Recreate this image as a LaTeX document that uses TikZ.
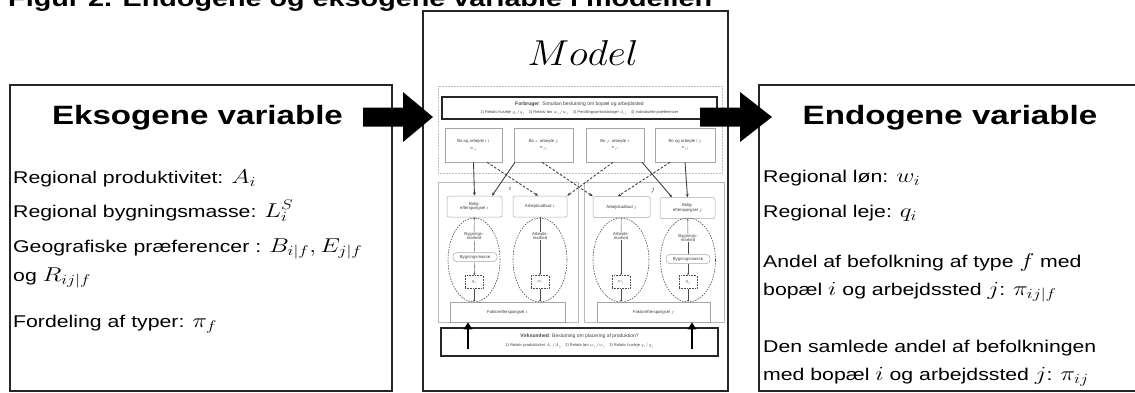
\documentclass[tikz,border=0pt]{standalone}
\usepackage{fix-cm}
\usepackage[no-math]{fontspec}
\setmainfont{Liberation Sans}
\usetikzlibrary{shapes.geometric,arrows.meta}
\newcommand\sx[1]{\scalebox{1.25}[1]{#1}}
\newcommand\fsz[1]{\fontsize{#1}{#1}\selectfont}
\newcommand\mth[1]{{\fsz{20}$#1$}}
\begin{document}
\begin{tikzpicture}[x=1pt,y=-1pt,
  frame/.style={draw=black!85,line width=1.8pt},
  headtext/.style={anchor=base,font=\bfseries\fsz{26.5},inner sep=0pt},
  bodytext/.style={anchor=base west,font=\fsz{17},inner sep=0pt},
  tinytext/.style={font=\fsz{4.3},text=black!75,align=center,inner sep=0.5pt},
  sqbox/.style={tinytext,draw=gray!70,line width=0.5pt,minimum height=34pt},
  rbox/.style={tinytext,draw=gray!70,line width=0.5pt,rounded corners=2pt,minimum height=21pt},
  hexbox/.style={tinytext,draw=gray!70,line width=0.5pt,rounded corners=3.5pt,minimum height=9pt,minimum width=44pt},
  dotbox/.style={tinytext,draw=black!70,densely dotted,line width=0.6pt,minimum width=18pt,minimum height=13pt},
  ell/.style={ellipse,draw=black!70,dashed,dash pattern=on 1.5pt off 1.2pt,line width=0.6pt,minimum width=52pt,minimum height=84pt,inner sep=0pt},
  panel/.style={draw=gray!55,line width=0.5pt},
  thick box/.style={draw=black!85,line width=1.1pt},
  sol/.style={draw=black!75,line width=0.9pt,-{Stealth[length=3.5pt,width=3pt]}},
  dsh/.style={draw=black!75,line width=0.9pt,dashed,dash pattern=on 2.5pt off 1.8pt,-{Stealth[length=3.5pt,width=3pt]}},
  thinln/.style={draw=gray!60!black,line width=0.4pt},
  thinarr/.style={thinln,-{Stealth[length=2pt,width=1.8pt]}},
  uparr/.style={draw=black,line width=2.2pt,-{Triangle[length=7pt,width=8pt]}},
  blockarrow/.style={fill=black}
]
\useasboundingbox (0,0) rectangle (1135,392);

% title (cut at top)
\node[anchor=base west,font=\bfseries\fsz{23},inner sep=0pt] (title) at (8,6)
  {\sx{Figur 2. Endogene og eksogene variable i modellen}};

% three frames
\draw[frame] (10,85) rectangle (392,391);
\draw[frame] (423,11) rectangle (728,391);
\draw[frame] (759,85) rectangle (1140,391);

% left box text
\node[headtext] (exo) at (197.5,124) {\sx{Eksogene variable}};
\node[bodytext] (l1) at (13,183) {\sx{Regional produktivitet: \mth{A_i}}};
\node[bodytext] (l2) at (13,217) {\sx{Regional bygningsmasse: \mth{L_i^S}}};
\node[bodytext] (l3) at (13,252) {\sx{Geografiske præferencer : \mth{B_{i|f}, E_{j|f}}}};
\node[bodytext] (l4) at (13,281) {\sx{og \mth{R_{ij|f}}}};
\node[bodytext] (l5) at (13,327) {\sx{Fordeling af typer: \mth{\pi_f}}};

% right box text
\node[headtext] (endo) at (950,124) {\sx{Endogene variable}};
\node[bodytext] (r1) at (763,182) {\sx{Regional løn: \mth{w_i}}};
\node[bodytext] (r2) at (763,217) {\sx{Regional leje: \mth{q_i}}};
\node[bodytext] (r3) at (763,267) {\sx{Andel af befolkning af type \mth{f} med}};
\node[bodytext] (r4) at (763,295) {\sx{bopæl \mth{i} og arbejdssted \mth{j}: \mth{\pi_{ij|f}}}};
\node[bodytext] (r5) at (763,352) {\sx{Den samlede andel af befolkningen}};
\node[bodytext] (r6) at (763,380) {\sx{med bopæl \mth{i} og arbejdssted \mth{j}: \mth{\pi_{ij}}}};

% Model title
\node[anchor=base,inner sep=0pt,font=\fsz{36}] (model) at (583,65) {\scalebox{1.1}[1]{$Model$}};

% ---------- inner model diagram ----------
\draw[draw=gray!50,line width=0.5pt,densely dotted] (438,86) rectangle (722,173);
\draw[thick box] (442,97) rectangle (717,119);
\node[tinytext,font=\fsz{5}] (forb1) at (579.5,104.5) {\textbf{Forbruger}: Simultan beslutning om bopæl og arbejdssted};
\node[tinytext,font=\fsz{4}] (forb2) at (579.5,113) {1) Relativ husleje $q_i/q_j$\quad 2) Relativ løn $w_i/w_j$\quad 3) Pendlingsomkostninger $d_{ij}$\quad 4) Individuelle præferencer};

\node[sqbox,minimum width=57pt] (b1) at (473.5,145) {Bo og arbejde i $i$\\[2pt]$\pi_{ii}$};
\node[sqbox,minimum width=59pt] (b2) at (543.5,145) {Bo $i$, arbejde $j$\\[2pt]$\pi_{ij}$};
\node[sqbox,minimum width=58pt] (b3) at (615,145) {Bo $j$, arbejde $i$\\[2pt]$\pi_{ji}$};
\node[sqbox,minimum width=60pt] (b4) at (685,145) {Bo og arbejde i $j$\\[2pt]$\pi_{jj}$};

\draw[panel] (438,182) rectangle (578,322);
\draw[panel] (584,182) rectangle (724,322);

\node[rbox,minimum width=55pt] (bi) at (474.5,206.5) {Bolig-\\efterspørgsel $i$};
\node[rbox,minimum width=54pt] (ai) at (540,206.5) {Arbejdsudbud $i$};
\node[rbox,minimum width=57pt] (aj) at (621.5,207) {Arbejdsudbud $j$};
\node[rbox,minimum width=55pt] (bj) at (687.5,208) {Bolig-\\efterspørgsel $j$};

\node[ell] (e1) at (474,260) {};
\node[ell,minimum width=54pt] (e2) at (540,260) {};
\node[ell,minimum width=56pt] (e3) at (621,260) {};
\node[ell,minimum width=55pt] (e4) at (688,260) {};

\node[tinytext] (m1) at (474,236) {Bygnings-\\marked};
\node[tinytext] (m2) at (540,236) {Arbejds-\\marked};
\node[tinytext] (m3) at (621,236) {Arbejds-\\marked};
\node[tinytext] (m4) at (688,238) {Bygnings-\\marked};
\node[hexbox] (h1) at (475,257) {Bygningsmasse};
\node[hexbox] (h4) at (688,259) {Bygningsmasse};
\node[dotbox] (q1) at (474,282) {$q_i$};
\node[dotbox] (w1) at (540,282) {$w_i$};
\node[dotbox] (w2) at (621,282) {$w_j$};
\node[dotbox] (q2) at (688,282) {$q_j$};

\node[rbox,rounded corners=0pt,minimum width=115pt,minimum height=20pt] (fi) at (507.5,312) {Faktorefterspørgsel $i$};
\node[rbox,rounded corners=0pt,minimum width=113pt,minimum height=20pt] (fj) at (653.5,312) {Faktorefterspørgsel $j$};

\draw[thick box] (441,328) rectangle (718,356);
\node[tinytext,font=\fsz{5}] (virk1) at (579.5,336.5) {\textbf{Virksomhed}: Beslutning om placering af produktion?};
\node[tinytext,font=\fsz{4}] (virk2) at (579.5,346) {1) Relativ produktivitet $A_i/A_j$\quad 2) Relativ løn $w_i/w_j$\quad 3) Relativ husleje $q_i/q_j$};

% connectors top boxes -> panel boxes
\draw[sol] (b1.south) -- (bi.north);
\draw[dsh] ([xshift=13.5pt]b1.south) -- ([xshift=-2pt]ai.north);
\draw[sol] ([xshift=-28.5pt]b2.south) -- ([xshift=17.5pt]bi.north);
\draw[dsh] ([xshift=-1.5pt]b2.south) -- (aj.north west);
\draw[dsh] ([xshift=-2pt]b3.south) -- (ai.north east);
\draw[sol] ([xshift=27pt]b3.south) -- ([xshift=-15.5pt]bj.north);
\draw[dsh] ([xshift=-15pt]b4.south) -- ([xshift=-3.5pt]aj.north);
\draw[sol] (b4.south) -- (bj.north);
\node[tinytext,font=\fsz{7},text=black!80] (li) at (510,188) {$i$};
\node[tinytext,font=\fsz{7},text=black!80] (lj) at (653,190) {$j$};

% inside ellipses
\draw[thinarr] (m1) -- (bi);
\draw[thinln] (m1) -- (h1);
\draw[thinarr] (h1) -- (q1);
\draw[thinarr] (q1) -- (q1 |- fi.north);
\draw[thinln] (ai) -- (m2);
\draw[thinarr] (m2) -- (w1);
\draw[thinarr] (w1) -- (w1 |- fi.north);
\draw[thinln] (aj) -- (m3);
\draw[thinarr] (m3) -- (w2);
\draw[thinarr] (w2) -- (w2 |- fj.north);
\draw[thinarr] (m4) -- (bj);
\draw[thinln] (m4) -- (h4);
\draw[thinarr] (h4) -- (q2);
\draw[thinarr] (q2) -- (q2 |- fj.north);

% thick up arrows from firm box
\coordinate (u1) at (468,349);
\coordinate (u2) at (692,349);
\draw[uparr] (u1) -- (u1 |- fi.south);
\draw[uparr] (u2) -- (u2 |- fj.south);

% big block arrows
\coordinate (la) at (363,117);
\coordinate (ra) at (700,117);
\fill[blockarrow] (la) ++(0,-9.5) -- ++(40,0) -- ++(0,-15.5) -- ++(30,25) -- ++(-30,25) -- ++(0,-15.5) -- ++(-40,0) -- cycle;
\fill[blockarrow] (ra) ++(0,-9.5) -- ++(40,0) -- ++(0,-15.5) -- ++(32,25) -- ++(-32,25) -- ++(0,-15.5) -- ++(-40,0) -- cycle;
\end{tikzpicture}
\end{document}
